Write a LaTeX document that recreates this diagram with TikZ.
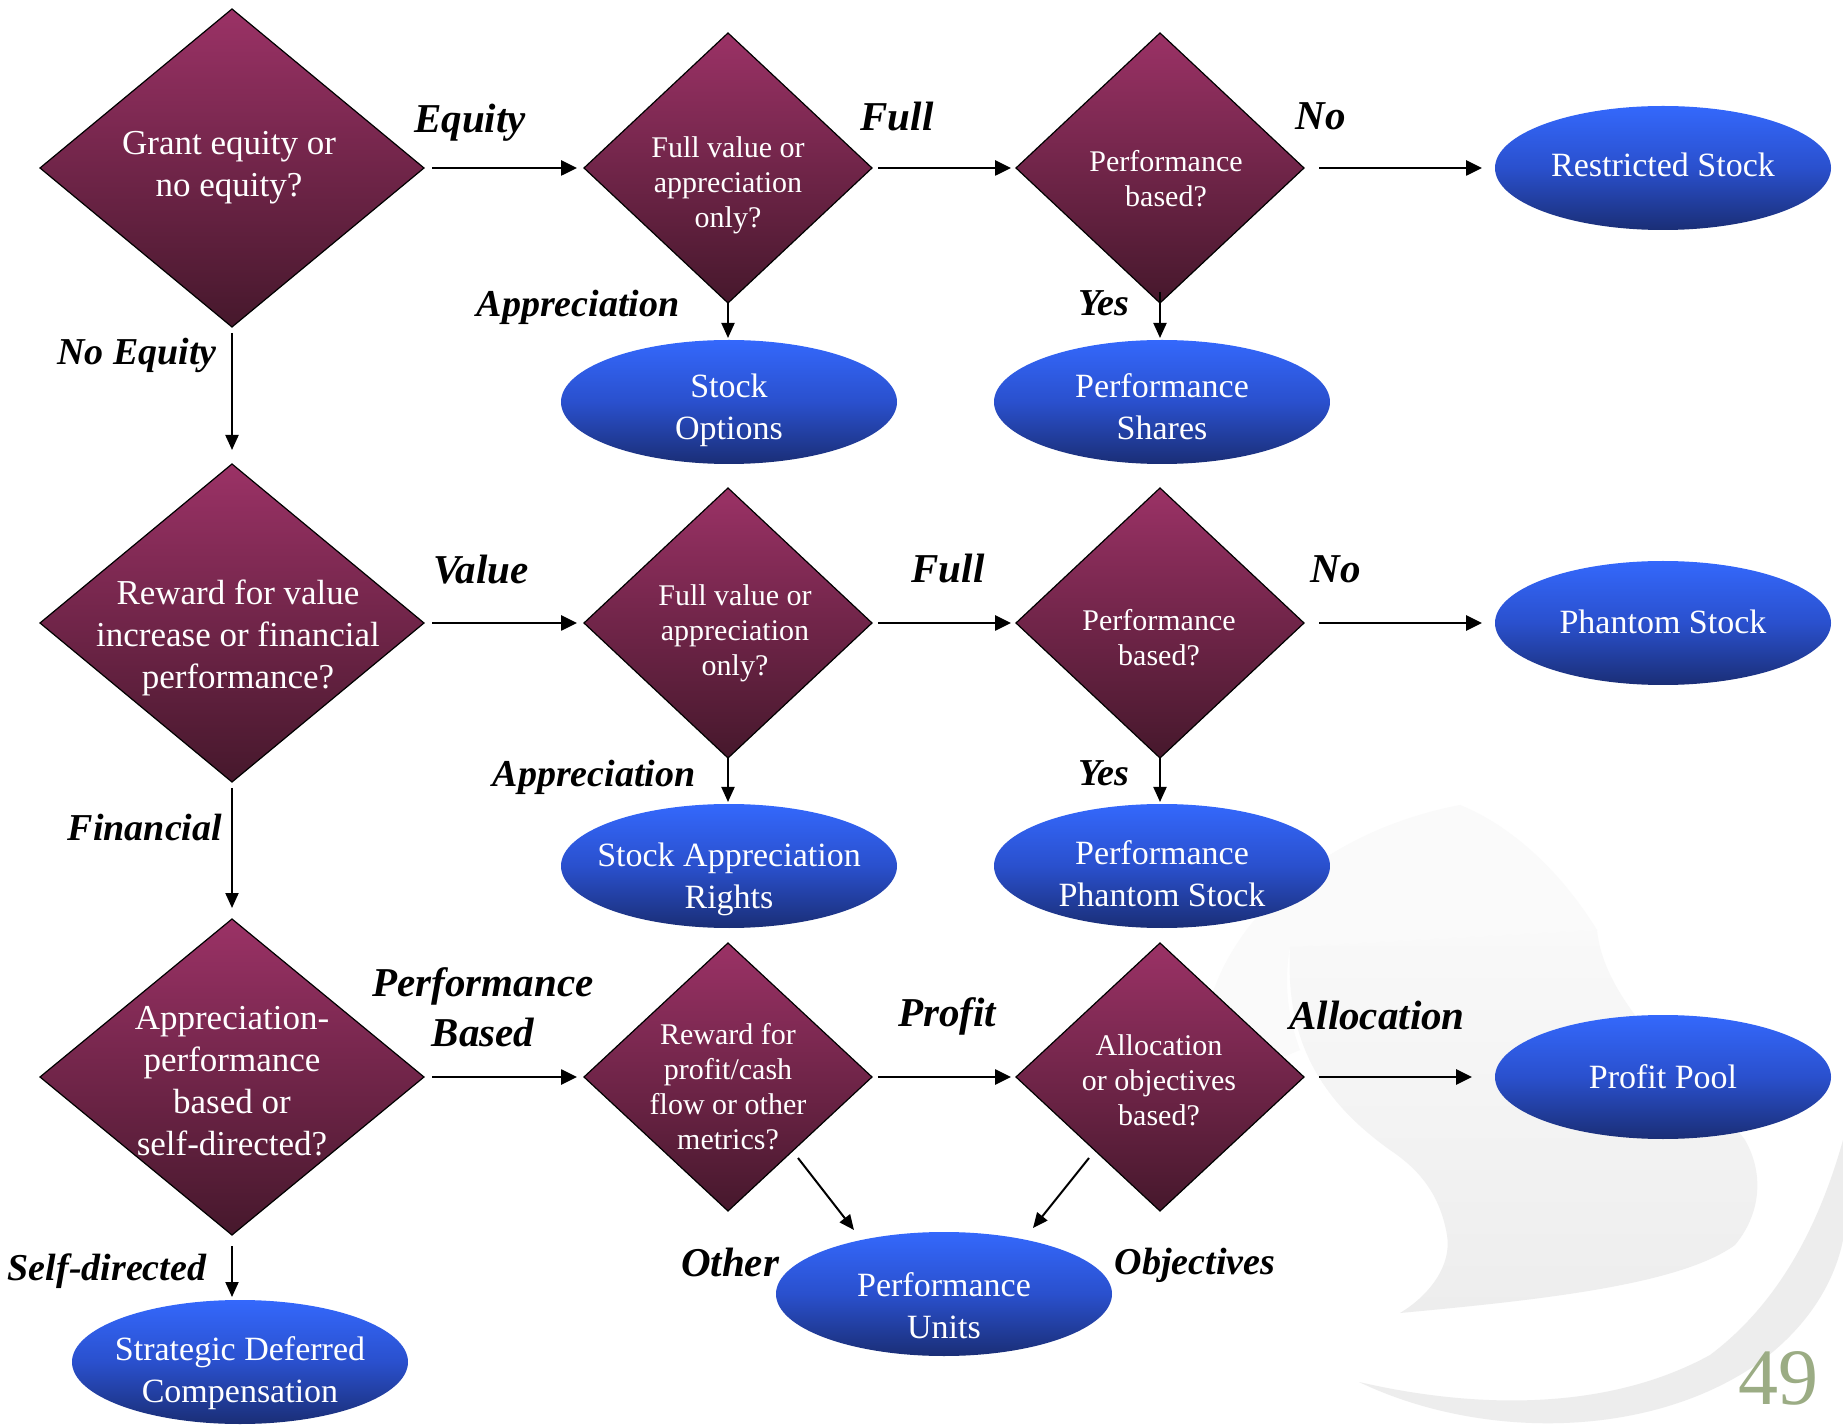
\documentclass[tikz,border=0pt]{standalone}
\usepackage{fontspec}
\setmainfont{Liberation Serif}
\usetikzlibrary{shapes.geometric,arrows.meta,calc}
\definecolor{dTop}{RGB}{155,50,102}
\definecolor{dBot}{RGB}{70,24,44}
\definecolor{eTop}{RGB}{52,104,252}
\definecolor{eMid}{RGB}{42,80,205}
\definecolor{eBot}{RGB}{26,46,118}
\definecolor{swA}{RGB}{250,250,250}
\definecolor{swB}{RGB}{237,237,237}
\definecolor{swC}{RGB}{249,249,249}
\definecolor{pgnum}{RGB}{155,172,132}
\tikzset{
 dia/.style={diamond, draw=black, line width=0.6pt, top color=dTop, bottom color=dBot, inner sep=0pt, outer sep=0pt},
 ell/.style={ellipse, top color=eTop, bottom color=eBot, middle color=eMid, minimum width=168pt, minimum height=62pt, inner sep=0pt, outer sep=0pt},
 bigq/.style={text=white, align=center, font=\fontsize{17.5}{21}\selectfont},
 smq/.style={text=white, align=center, font=\fontsize{15}{17.5}\selectfont},
 etxt/.style={text=white, align=center, font=\fontsize{17}{21}\selectfont},
 lbl/.style={text=black, align=center, font=\fontsize{20.5}{25}\selectfont\bfseries\itshape},
 lbls/.style={text=black, align=center, font=\fontsize{19}{23}\selectfont\bfseries\itshape},
 harr/.style={-{Triangle[length=8pt,width=7.5pt]}, line width=1.3pt},
 varr/.style={-{Triangle[length=7.5pt,width=6.5pt]}, line width=1pt},
}
\begin{document}
\begin{tikzpicture}[x=0.5pt,y=-0.5pt]
\useasboundingbox (0,0) rectangle (1843,1427);
\fill[white] (0,0) rectangle (1843,1427);
% background swoosh
\fill[swA] (1460,805) .. controls (1330,830) and (1240,910) .. (1212,995) -- (1240,1075) -- (1300,1050) .. controls (1285,1010) and (1285,975) .. (1290,947) -- (1597,930) .. controls (1560,870) and (1510,825) .. (1460,805) -- cycle;
\path[top color=swC, bottom color=swB] (1290,947) -- (1597,930) .. controls (1605,1010) and (1700,1080) .. (1745,1140) .. controls (1765,1175) and (1760,1215) .. (1735,1245) .. controls (1680,1285) and (1540,1300) .. (1400,1313) .. controls (1430,1295) and (1452,1265) .. (1447,1235) .. controls (1440,1195) and (1420,1170) .. (1390,1150) .. controls (1320,1100) and (1285,1040) .. (1290,947) -- cycle;
\fill[swB] (1359,1382) .. controls (1480,1440) and (1650,1440) .. (1760,1362) .. controls (1810,1325) and (1835,1280) .. (1843,1240) -- (1843,1140) .. controls (1815,1240) and (1770,1310) .. (1710,1355) .. controls (1610,1410) and (1480,1410) .. (1359,1382) -- cycle;

% diamonds
\node[dia, minimum width=192pt, minimum height=159pt] (d1) at (232,168) {};
\node[dia, minimum width=144pt, minimum height=135pt] (d2) at (728,168) {};
\node[dia, minimum width=144pt, minimum height=135pt] (d3) at (1160,168) {};
\node[dia, minimum width=192pt, minimum height=159pt] (d4) at (232,623) {};
\node[dia, minimum width=144pt, minimum height=135pt] (d5) at (728,623) {};
\node[dia, minimum width=144pt, minimum height=135pt] (d6) at (1160,623) {};
\node[dia, minimum width=192pt, minimum height=158pt] (d7) at (232,1077) {};
\node[dia, minimum width=144pt, minimum height=134pt] (d8) at (728,1077) {};
\node[dia, minimum width=144pt, minimum height=134pt] (d9) at (1160,1077) {};

% ellipses
\node[ell] (rs) at (1663,168) {};
\node[ell] (so) at (729,402) {};
\node[ell] (ps) at (1162,402) {};
\node[ell] (ph) at (1663,623) {};
\node[ell] (sar) at (729,866) {};
\node[ell] (pps) at (1162,866) {};
\node[ell] (pp) at (1663,1077) {};
\node[ell] (pu) at (944,1294) {};
\node[ell] (sdc) at (240,1362) {};

% diamond texts
\node[bigq] (t1) at (229,168) {Grant equity or\\no equity?};
\node[smq] (t2) at (728,185) {Full value or\\appreciation\\only?};
\node[smq] (t3) at (1166,179) {Performance\\based?};
\node[bigq] (t4) at (238,638) {Reward for value\\increase or financial\\performance?};
\node[smq] (t5) at (735,633) {Full value or\\appreciation\\only?};
\node[smq] (t6) at (1159,638) {Performance\\based?};
\node[bigq] (t7) at (232,1081) {Appreciation-\\performance\\based or\\self-directed?};
\node[smq] (t8) at (728,1087) {Reward for\\profit/cash\\flow or other\\metrics?};
\node[smq] (t9) at (1159,1080) {Allocation\\or objectives\\based?};

% ellipse texts
\node[etxt] (e1) at (1663,165) {Restricted Stock};
\node[etxt] (e2) at (729,410) {Stock\\Options};
\node[etxt] (e3) at (1162,407) {Performance\\Shares};
\node[etxt] (e4) at (1663,622) {Phantom Stock};
\node[etxt] (e5) at (729,879) {Stock Appreciation\\Rights};
\node[etxt] (e6) at (1162,874) {Performance\\Phantom Stock};
\node[etxt] (e7) at (1663,1077) {Profit Pool};
\node[etxt] (e8) at (944,1306) {Performance\\Units};
\node[etxt] (e9) at (240,1373) {Strategic Deferred\\Compensation};

% connectors
\draw[harr, shorten <=4pt, shorten >=3.5pt] (d1.east) -- (d2.west);
\draw[harr, shorten <=3pt, shorten >=2.5pt] (d2.east) -- (d3.west);
\draw[harr, shorten <=7.5pt, shorten >=6.5pt] (d3.east) -- (rs.west);
\draw[harr, shorten <=4pt, shorten >=3.5pt] (d4.east) -- (d5.west);
\draw[harr, shorten <=3pt, shorten >=2.5pt] (d5.east) -- (d6.west);
\draw[harr, shorten <=7.5pt, shorten >=6.5pt] (d6.east) -- (ph.west);
\draw[harr, shorten <=4pt, shorten >=3.5pt] (d7.east) -- (d8.west);
\draw[harr, shorten <=3pt, shorten >=2.5pt] (d8.east) -- (d9.west);
\draw[harr, shorten <=7.5pt, shorten >=11.5pt] (d9.east) -- (pp.west);
\draw[varr, shorten <=3pt, shorten >=7pt] (d1.south) -- (d4.north);
\draw[varr, shorten >=1pt] (d2.south) -- (d2.south |- so.north);
\draw[varr, shorten <=-5.5pt, shorten >=1pt] (d3.south) -- (d3.south |- ps.north);
\draw[varr, shorten <=3pt, shorten >=5.5pt] (d4.south) -- (d7.north);
\draw[varr, shorten >=1pt] (d5.south) -- (d5.south |- sar.north);
\draw[varr, shorten >=1pt] (d6.south) -- (d6.south |- pps.north);
\draw[varr, shorten <=5.5pt, shorten >=1.5pt] (d7.south) -- (d7.south |- sdc.north);
\draw[varr] ($(d8)+(70,81)$) -- ($(pu)+(-90,-64)$);
\draw[varr] ($(d9)+(-71,81)$) -- ($(pu)+(89,-66)$);

% labels
\node[lbl] (l1) at (470,123) {Equity};
\node[lbl] (l2) at (897,117) {Full};
\node[lbl] (l3) at (1321,116) {No};
\node[lbls] (l4) at (137,355) {No Equity};
\node[lbls] (l5) at (578,307) {Appreciation};
\node[lbls] (l6) at (1104,303) {Yes};
\node[lbl] (l7) at (481,570) {Value};
\node[lbl] (l8) at (948,569) {Full};
\node[lbl] (l9) at (1336,569) {No};
\node[lbls] (l10) at (594,777) {Appreciation};
\node[lbls] (l11) at (1104,773) {Yes};
\node[lbls] (l12) at (145,828) {Financial};
\node[lbl] (l13) at (483,1007) {Performance\\Based};
\node[lbl] (l14) at (947,1016) {Profit};
\node[lbl] (l15) at (1377,1015) {Allocation};
\node[lbls] (l16) at (107,1271) {Self-directed};
\node[lbl] (l17) at (730,1262) {Other};
\node[lbls] (l18) at (1195,1265) {Objectives};
\node[text=pgnum, font=\fontsize{40}{40}\selectfont] (pg) at (1778,1378) {49};
\end{tikzpicture}
\end{document}
